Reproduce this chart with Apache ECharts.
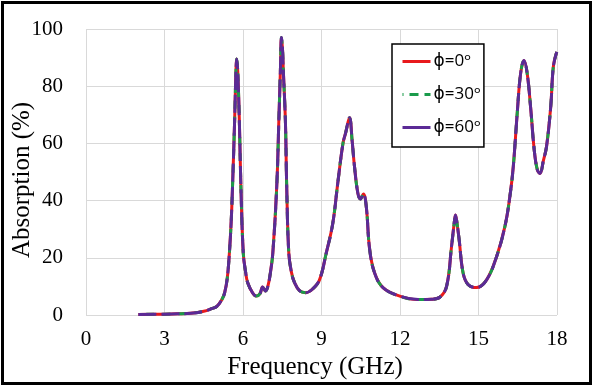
<!DOCTYPE html>
<html><head><meta charset="utf-8">
<script src="https://cdn.jsdelivr.net/npm/echarts@6/dist/echarts.min.js"></script>
<style>html,body{margin:0;padding:0;background:#fff}#c{width:594px;height:387px}</style>
</head><body><div id="c"></div>
<script>
const freq = [2.0,3.0,3.5,4.0,4.5,4.8,5.0,5.2,5.3,5.4,5.48,5.55,5.6,5.68,5.73,5.76,5.8,5.86,5.92,6.01,6.1,6.18,6.37,6.51,6.65,6.75,6.86,6.95,7.05,7.14,7.29,7.37,7.43,7.47,7.51,7.54,7.62,7.67,7.75,7.85,7.97,8.16,8.4,8.65,8.92,9.18,9.43,9.62,9.82,9.92,10.07,10.17,10.26,10.39,10.49,10.6,10.71,10.84,11.03,11.35,11.99,12.69,13.2,13.52,13.78,13.97,14.07,14.12,14.18,14.26,14.41,14.6,14.92,15.31,15.69,16.01,16.2,16.33,16.48,16.61,16.74,16.86,16.99,17.13,17.25,17.35,17.48,17.6,17.76,17.86,17.99];
const absPhi0 = [0.2,0.3,0.4,0.6,1.3,2.2,3.0,5.5,7.8,13,21.7,33,45,68,85,89.5,85,68,45,21.7,15,11.3,7.7,6.6,7.5,9.8,8.4,10,15,21.7,45,68,85.7,97,93,85.7,68,45,21.7,15,11.3,8.5,7.8,9,12.2,21.6,32,46,60,63.6,69,61,52,42.6,40.6,42.3,38,23,14.7,9.6,6.6,5.4,5.5,6.2,10,24,32,35,32,26.4,14.8,10.7,9.6,12.3,20.4,31,41.5,52,70.6,84.5,89,84.5,72.8,57.7,50.7,49.5,54,58.9,72.8,86.8,92];
const absPhi30 = absPhi0.slice();
const absPhi60 = absPhi0.slice();
const seriesNames = ['ϕ=0ᵒ','ϕ=30ᵒ','ϕ=60ᵒ'];
const xTicks = {min:0, max:18, interval:3};
const yTicks = {min:0, max:100, interval:20};

const pairs = arr => freq.map((f,i)=>[f,arr[i]]);
const chart = echarts.init(document.getElementById('c'), null, {renderer:'canvas'});
const serif = 'Liberation Serif, Times New Roman, serif';
chart.setOption({
  animation:false,
  grid:{left:86, right:37, top:29, bottom:72, outerBoundsMode:'none', containLabel:false},
  xAxis:{type:'value', min:xTicks.min, max:xTicks.max, interval:xTicks.interval,
    name:'Frequency (GHz)', nameLocation:'middle', nameGap:37,
    nameTextStyle:{fontFamily:serif, fontSize:25, color:'#000', padding:[0,13,0,0]},
    axisLine:{show:false}, axisTick:{show:false},
    axisLabel:{fontFamily:serif, fontSize:21, color:'#000', margin:14},
    splitLine:{show:true, lineStyle:{color:'#d9d9d9', width:1}}},
  yAxis:{type:'value', min:yTicks.min, max:yTicks.max, interval:yTicks.interval,
    name:'Absorption (%)', nameLocation:'middle', nameGap:51, nameMoveOverlap:false,
    nameTextStyle:{fontFamily:serif, fontSize:25, color:'#000', padding:[0,16,0,0]},
    axisLine:{show:false}, axisTick:{show:false},
    axisLabel:{fontFamily:serif, fontSize:21, color:'#000', margin:23},
    splitLine:{show:true, lineStyle:{color:'#d9d9d9', width:1}}},
  legend:{orient:'vertical', left:392, top:44, itemWidth:28, itemHeight:16, itemGap:16,
    padding:[9,3,11,9], borderColor:'#000', borderWidth:1.5, backgroundColor:'#fff',
    textStyle:{fontFamily:'Open Sans, DejaVu Sans, sans-serif', fontSize:17, color:'#000', padding:[0,0,0,-2]},
    data:[
      {name:seriesNames[0], itemStyle:{opacity:0}, lineStyle:{color:'#e8191c', width:3, type:'solid'}},
      {name:seriesNames[1], itemStyle:{opacity:0}, lineStyle:{color:'#1a9b4b', width:3, type:[9,6]}},
      {name:seriesNames[2], itemStyle:{opacity:0}, lineStyle:{color:'#5b2a96', width:3, type:'solid'}}
    ]},
  graphic:[{type:'rect', shape:{x:2.5, y:2.5, width:588, height:381}, style:{fill:'none', stroke:'#000', lineWidth:3}, z:100}],
  series:[
    {name:seriesNames[0], type:'line', data:pairs(absPhi0), smooth:0.4, showSymbol:false, symbol:'none',
      lineStyle:{color:'#e8191c', width:3}},
    {name:seriesNames[1], type:'line', data:pairs(absPhi30), smooth:0.4, showSymbol:false, symbol:'none',
      lineStyle:{color:'#1a9b4b', width:3, type:[8,8], dashOffset:8}},
    {name:seriesNames[2], type:'line', data:pairs(absPhi60), smooth:0.4, showSymbol:false, symbol:'none',
      lineStyle:{color:'#5b2a96', width:3, type:[18,5]}}
  ]
});
</script></body></html>
